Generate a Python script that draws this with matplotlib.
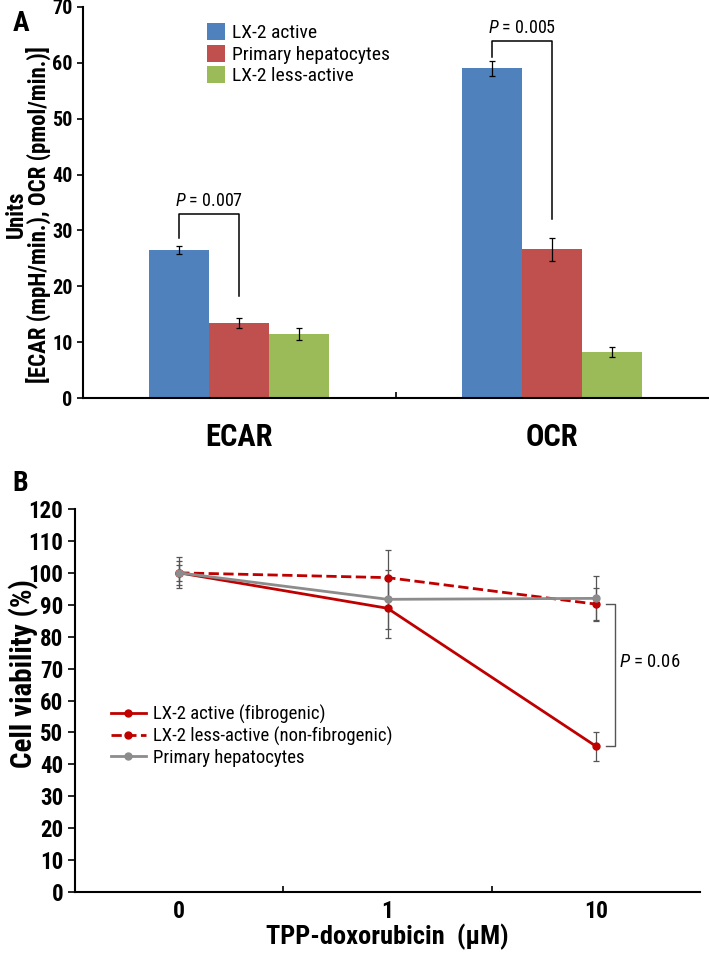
import matplotlib
matplotlib.use("Agg")
import matplotlib.pyplot as plt
from matplotlib import font_manager
import numpy as np

# a narrow sans if there is one, else Arial-like Liberation Sans
have = {f.name for f in font_manager.fontManager.ttflist}
base = 'Liberation Sans'
for cand in ['Liberation Sans Narrow', 'DejaVu Sans Condensed', 'Roboto Condensed']:
    if cand in have:
        base = cand
        break
plt.rcParams['font.family'] = [base, 'Liberation Sans', 'DejaVu Sans']
plt.rcParams['mathtext.fontset'] = 'custom'
plt.rcParams['mathtext.it'] = base + ':italic'
plt.rcParams['mathtext.rm'] = base

# panel A data
groups = ["ECAR", "OCR"]
bar_series = ["LX-2 active", "Primary hepatocytes", "LX-2 less-active"]
bar_colors = ["#4F81BD", "#C0504D", "#9BBB59"]
bar_vals = [[26.5, 59.0], [13.4, 26.6], [11.4, 8.3]]
bar_errs = [[0.7, 1.3], [0.9, 2.0], [1.1, 0.9]]

# panel B data
doses = ["0", "1", "10"]
line_series = ["LX-2 active (fibrogenic)", "LX-2 less-active (non-fibrogenic)", "Primary hepatocytes"]
line_vals = [[100, 88.9, 45.7], [100, 98.5, 90.2], [100, 91.7, 92.0]]
line_errs = [[2.5, 9.4, 4.5], [3.7, 8.8, 5.0], [4.9, 9.2, 7.0]]

fig = plt.figure(figsize=(7.09, 9.76), dpi=100)

# ---------------- A ----------------
axA = fig.add_axes([83/709, 1-398/976, 625/709, 391/976])
x = np.arange(len(groups))
w = 0.192
for i, (name, col) in enumerate(zip(bar_series, bar_colors)):
    axA.bar(x + (i-1)*w, bar_vals[i], w, color=col, label=name,
            yerr=bar_errs[i], error_kw=dict(ecolor='black', elinewidth=0.9, capsize=2, capthick=0.9))
axA.set_xlim(-0.5, 1.5)
axA.set_ylim(0, 70)
axA.set_yticks(range(0, 71, 10))
axA.set_xticks(x)
axA.set_xticklabels(groups, fontsize=22, fontweight='bold')
axA.tick_params(axis='x', length=0, pad=17)
axA.set_xticks([0.5], minor=True)
axA.tick_params(axis='x', which='minor', direction='in', length=4, width=1.2)
axA.tick_params(axis='y', direction='out', length=4, width=1.2, labelsize=14.5)
for lab in axA.get_yticklabels():
    lab.set_fontweight('bold')
for s in ['top', 'right']:
    axA.spines[s].set_visible(False)
for s in ['left', 'bottom']:
    axA.spines[s].set_linewidth(1.5)
axA.set_ylabel("Units\n[ECAR (mpH/min.), OCR (pmol/min.)]", fontsize=16.5, fontweight='bold',
               linespacing=0.9)
axA.yaxis.set_label_coords(-0.051, 0.47)

# brackets
def bracket(ax, x1, x2, ytop, y1, y2, text):
    ax.plot([x1, x1, x2, x2], [y1, ytop, ytop, y2], color='black', lw=1.1)
    ax.text((x1+x2)/2, ytop+0.7, text, ha='center', va='bottom', fontsize=13)

bracket(axA, -w, 0, 33.0, 28.7, 18.2, "$P$ = 0.007")
bracket(axA, 1-w, 1, 63.9, 61.0, 32.0, "$P$ = 0.005")

axA.legend(loc='upper left', bbox_to_anchor=(0.17, 1.003), frameon=False, fontsize=14,
           handlelength=0.95, handleheight=0.95, handletextpad=0.35, labelspacing=0.12)

fig.text(0.018, 0.99, "A", fontsize=20, fontweight='bold', va='top')

# ---------------- B ----------------
axB = fig.add_axes([75/709, 1-892/976, 625/709, 383/976])
xb = np.arange(len(doses))
styles = [dict(color='#C00000', ls='-'), dict(color='#C00000', ls='--'), dict(color='#8C8C8C', ls='-')]
for i, name in enumerate(line_series):
    axB.errorbar(xb, line_vals[i], yerr=line_errs[i], fmt='none',
                 ecolor='#555555', elinewidth=0.9, capsize=2, capthick=0.9)
for i, name in enumerate(line_series):
    axB.plot(xb, line_vals[i], label=name, marker='o', ms=5, lw=2, **styles[i])
axB.set_xlim(-0.5, 2.5)
axB.set_ylim(0, 120)
axB.set_yticks(range(0, 121, 10))
axB.set_xticks(xb)
axB.set_xticklabels(doses, fontsize=17, fontweight='bold')
axB.tick_params(axis='x', length=0, pad=6)
axB.set_xticks([0.5, 1.5], minor=True)
axB.tick_params(axis='x', which='minor', direction='in', length=4, width=1.2)
axB.tick_params(axis='y', direction='out', length=5, width=1.2, labelsize=16.5)
for lab in axB.get_yticklabels():
    lab.set_fontweight('bold')
for s in ['top', 'right']:
    axB.spines[s].set_visible(False)
for s in ['left', 'bottom']:
    axB.spines[s].set_linewidth(1.5)
axB.set_ylabel("Cell viability (%)", fontsize=21, fontweight='bold')
axB.yaxis.set_label_coords(-0.058, 0.57)
axB.set_xlabel("TPP-doxorubicin  (\u03bcM)", fontsize=19, fontweight='bold', labelpad=0)

# P bracket
xa, xc = 2.05, 2.09
axB.plot([xa, xc, xc, xa], [line_vals[1][2], line_vals[1][2], line_vals[0][2], line_vals[0][2]],
         color='#555555', lw=1.0)
axB.text(xc + 0.02, 72, "$P$ = 0.06", fontsize=13.5, va='center', ha='left')

axB.legend(loc='upper left', bbox_to_anchor=(0.03, 0.533), frameon=False, fontsize=13.5,
           handlelength=1.9, handletextpad=0.35, labelspacing=0.15)

fig.text(0.018, 0.518, "B", fontsize=20, fontweight='bold', va='top')

fig.savefig("out.png", dpi=100)
